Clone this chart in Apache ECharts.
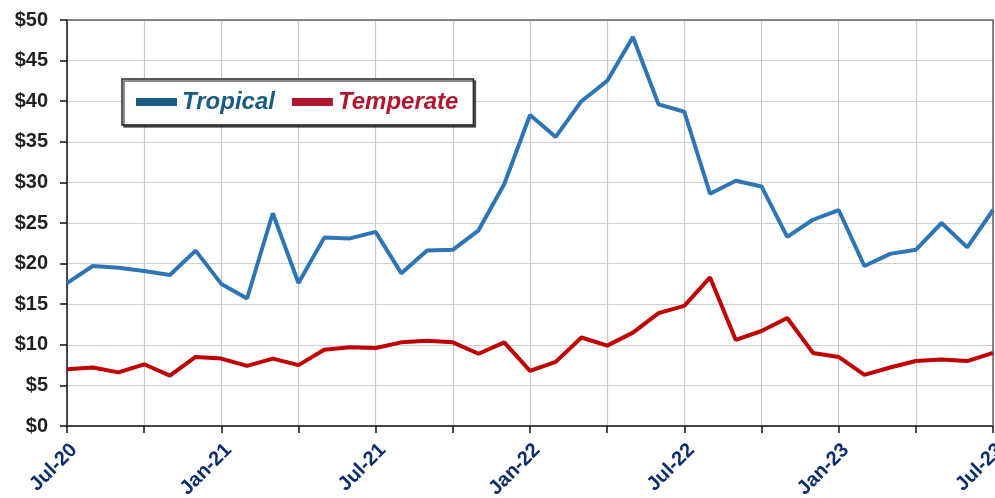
<!DOCTYPE html>
<html>
<head>
<meta charset="utf-8">
<script src="https://cdn.jsdelivr.net/npm/echarts@6/dist/echarts.min.js"></script>
<style>
  html, body { margin: 0; padding: 0; background: #fff; }
  #chart { width: 995px; height: 498px; }
</style>
</head>
<body>
<div id="chart"></div>
<script>
// monthly, Jul-20 .. Jul-23
var months = [
  "Jul-20", "Aug-20", "Sep-20", "Oct-20", "Nov-20", "Dec-20",
  "Jan-21", "Feb-21", "Mar-21", "Apr-21", "May-21", "Jun-21",
  "Jul-21", "Aug-21", "Sep-21", "Oct-21", "Nov-21", "Dec-21",
  "Jan-22", "Feb-22", "Mar-22", "Apr-22", "May-22", "Jun-22",
  "Jul-22", "Aug-22", "Sep-22", "Oct-22", "Nov-22", "Dec-22",
  "Jan-23", "Feb-23", "Mar-23", "Apr-23", "May-23", "Jun-23",
  "Jul-23"
];

var tropical = [
  17.6, 19.7, 19.5, 19.1, 18.6, 21.6,
  17.5, 15.7, 26.2, 17.6, 23.2, 23.1,
  23.9, 18.8, 21.6, 21.7, 24.1, 29.8,
  38.3, 35.6, 40.0, 42.5, 47.9, 39.6,
  38.7, 28.6, 30.2, 29.5, 23.3, 25.4,
  26.6, 19.7, 21.2, 21.7, 25.0, 22.0,
  26.6
];

var temperate = [
  7.0, 7.2, 6.6, 7.6, 6.2, 8.5,
  8.3, 7.4, 8.3, 7.5, 9.4, 9.7,
  9.6, 10.3, 10.5, 10.3, 8.9, 10.3,
  6.8, 7.9, 10.9, 9.9, 11.5, 13.9,
  14.8, 18.3, 10.6, 11.7, 13.3, 9.0,
  8.5, 6.3, 7.2, 8.0, 8.2, 8.0,
  9.0
];

var font = '"Liberation Sans", Arial, Helvetica, sans-serif';

var myChart = echarts.init(document.getElementById("chart"));

var option = {
  animation: false,
  grid: { left: 67, right: 2, top: 20, bottom: 72, outerBoundsMode: "none" },
  legend: {
    orient: "horizontal",
    left: 122,
    top: 79,
    padding: [10, 15, 10, 14],
    itemGap: 17,
    itemWidth: 41,
    itemHeight: 8,
    icon: "rect",
    backgroundColor: "#fff",
    borderColor: "#222",
    borderWidth: 1.5,
    shadowColor: "rgba(0,0,0,0.6)",
    shadowOffsetX: 2,
    shadowOffsetY: 2,
    shadowBlur: 0,
    data: [
      { name: "Tropical", itemStyle: { color: "#1b5c82" },
        textStyle: { color: "#1b5c82" } },
      { name: "Temperate", itemStyle: { color: "#b0182f" },
        textStyle: { color: "#b0182f" } }
    ],
    textStyle: {
      fontFamily: font,
      fontSize: 24,
      lineHeight: 26,
      fontWeight: "bold",
      fontStyle: "italic"
    }
  },
  xAxis: {
    type: "category",
    data: months,
    boundaryGap: false,
    axisLine: { onZero: false, lineStyle: { color: "#111", width: 1.5 } },
    axisTick: { interval: 2, length: 7, lineStyle: { color: "#111", width: 1.5 } },
    axisLabel: {
      interval: 5,
      rotate: 45,
      margin: 14,
      verticalAlign: "top",
      color: "#0b2d6e",
      fontFamily: font,
      fontSize: 20,
      fontWeight: "bold"
    },
    splitLine: { show: true, interval: 2, lineStyle: { color: "#c8c8c8", width: 1.2 } }
  },
  yAxis: {
    type: "value",
    min: 0,
    max: 50,
    interval: 5,
    axisLine: { show: true, lineStyle: { color: "#111", width: 1.5 } },
    axisTick: { show: true, length: 7, lineStyle: { color: "#111", width: 1.5 } },
    axisLabel: {
      margin: 19,
      color: "#231f20",
      fontFamily: font,
      fontSize: 20,
      fontWeight: "bold",
      formatter: "${value}"
    },
    splitLine: { lineStyle: { color: "#d0d0d0", width: 1.2 } }
  },
  series: [
    {
      name: "Tropical",
      type: "line",
      data: tropical,
      symbol: "none",
      lineStyle: { color: "#2e75b6", width: 4 },
      itemStyle: { color: "#1b5c82" },
      z: 3
    },
    {
      name: "Temperate",
      type: "line",
      data: temperate,
      symbol: "none",
      lineStyle: { color: "#c00000", width: 4 },
      itemStyle: { color: "#b0182f" },
      z: 3
    }
  ],
  graphic: [
    // plot frame on top and right
    {
      type: "polyline",
      shape: { points: [[67, 20], [993, 20], [993, 426]] },
      style: { stroke: "#666", lineWidth: 1.5, fill: null },
      silent: true,
      z: 1
    }
  ]
};

myChart.setOption(option);
</script>
</body>
</html>
